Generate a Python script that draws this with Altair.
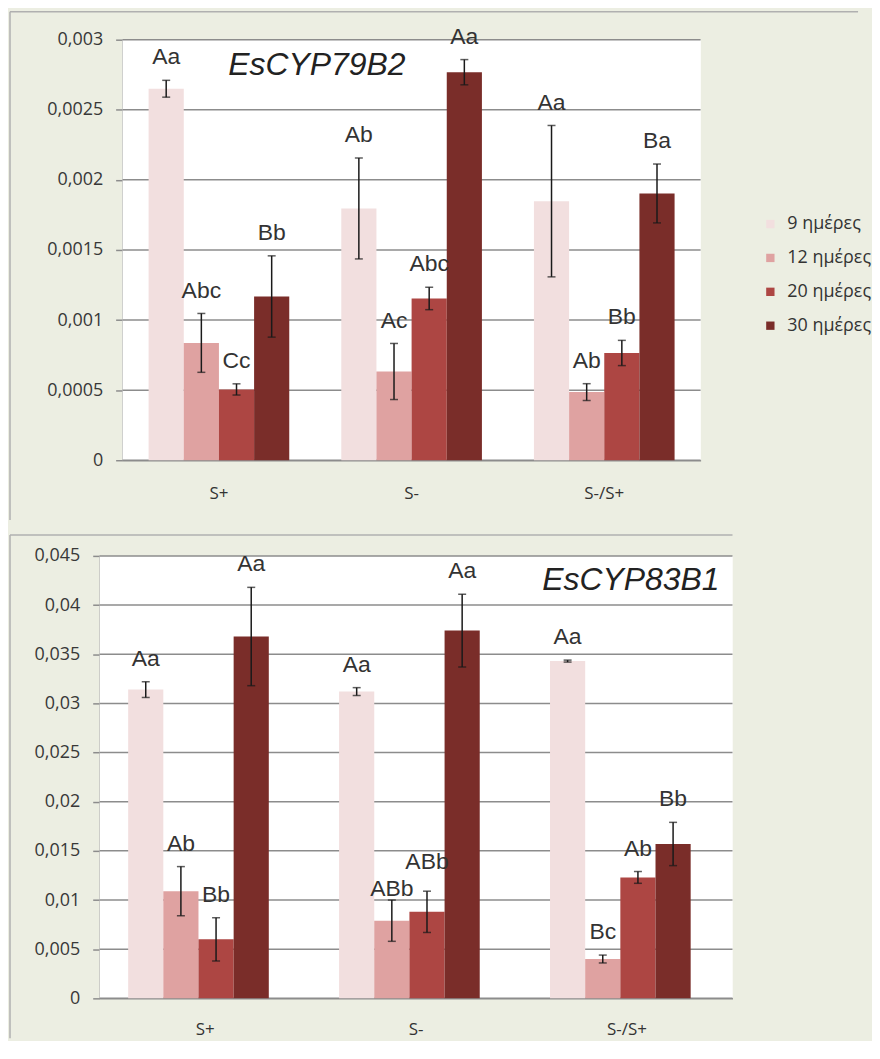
import altair as alt
import pandas as pd

conds = ["S+", "S-", "S-/S+"]
days = ["9 ημέρες", "12 ημέρες", "20 ημέρες", "30 ημέρες"]
colors = ["#f2dfdf", "#dfa2a1", "#ad4643", "#7a2d29"]

# EsCYP79B2 (top panel)
b2_mean_splus = [0.00265, 0.000837, 0.000505, 0.001168]
b2_err_splus = [0.00006, 0.00021, 0.00004, 0.00029]
b2_lab_splus = ["Aa", "Abc", "Cc", "Bb"]
b2_mean_sminus = [0.001796, 0.000633, 0.001154, 0.002768]
b2_err_sminus = [0.00036, 0.0002, 0.00008, 0.00009]
b2_lab_sminus = ["Ab", "Ac", "Abc", "Aa"]
b2_mean_mix = [0.001848, 0.000486, 0.000765, 0.001903]
b2_err_mix = [0.00054, 0.00006, 0.00009, 0.00021]
b2_lab_mix = ["Aa", "Ab", "Bb", "Ba"]
b2_ticks = [0, 0.0005, 0.001, 0.0015, 0.002, 0.0025, 0.003]

# EsCYP83B1 (bottom panel)
b1_mean_splus = [0.0314, 0.0109, 0.0060, 0.0368]
b1_err_splus = [0.0008, 0.0025, 0.0022, 0.0050]
b1_lab_splus = ["Aa", "Ab", "Bb", "Aa"]
b1_mean_sminus = [0.0312, 0.0079, 0.0088, 0.0374]
b1_err_sminus = [0.0004, 0.0021, 0.0021, 0.0037]
b1_lab_sminus = ["Aa", "ABb", "ABb", "Aa"]
b1_mean_mix = [0.0343, 0.0040, 0.0123, 0.0157]
b1_err_mix = [0.0001, 0.0004, 0.0006, 0.0022]
b1_lab_mix = ["Aa", "Bc", "Ab", "Bb"]
b1_ticks = [0, 0.005, 0.01, 0.015, 0.02, 0.025, 0.03, 0.035, 0.04, 0.045]


def make_df(means, errs, labs, ymax):
    rows = []
    for c, m_list, e_list, l_list in zip(conds, means, errs, labs):
        for d, m, e, l in zip(days, m_list, e_list, l_list):
            rows.append({"cond": c, "day": d, "mean": m, "lo": m - e, "hi": m + e,
                         "label": l, "pos": "mid"})
    df = pd.DataFrame(rows)
    # stagger neighbouring long labels that would otherwise collide
    for c in conds:
        idx = list(df.index[df["cond"] == c])
        for a, b in zip(idx[:-1], idx[1:]):
            close = abs(df.at[a, "hi"] - df.at[b, "hi"]) < 0.05 * ymax
            long_ = len(df.at[a, "label"]) >= 3 and len(df.at[b, "label"]) >= 3
            if close and long_:
                low, high = (a, b) if df.at[a, "hi"] <= df.at[b, "hi"] else (b, a)
                df.at[low, "pos"] = "low"
                df.at[high, "pos"] = "high"
    return df


df_top = make_df([b2_mean_splus, b2_mean_sminus, b2_mean_mix],
                 [b2_err_splus, b2_err_sminus, b2_err_mix],
                 [b2_lab_splus, b2_lab_sminus, b2_lab_mix], 0.003)
df_bot = make_df([b1_mean_splus, b1_mean_sminus, b1_mean_mix],
                 [b1_err_splus, b1_err_sminus, b1_err_mix],
                 [b1_lab_splus, b1_lab_sminus, b1_lab_mix], 0.045)

GRID = "#8c8c8c"
FRAME = "#b0b0b0"
INK = "#1a1a1a"


def panel(df, ymax, yvals, gene, gene_x, gene_y, width, height, shift, xlabpad,
          legend, frame_left, frame_top, frame_right, frame_bottom):
    xscale = alt.Scale(paddingInner=0.27, paddingOuter=0.135, range=[-shift, width])
    x = alt.X("cond:N", sort=conds, title=None, scale=xscale,
              axis=alt.Axis(labelAngle=0, ticks=False, tickSize=0, labelPadding=xlabpad,
                            labelFont="Open Sans", labelFontSize=17, labelColor="#333333",
                            domainColor=GRID, domainWidth=1.5, grid=False))
    xo = alt.XOffset("day:N", sort=days)
    yscale = alt.Scale(domain=[0, ymax], nice=False, zero=True)
    yaxis = alt.Axis(values=yvals, labelExpr="replace(format(datum.value, '~g'), '.', ',')",
                     grid=False, offset=shift, tickColor=GRID,
                     tickSize=7, tickWidth=1.5, domainColor=GRID, domainWidth=1.5,
                     labelPadding=13, labelFont="Open Sans", labelFontSize=18,
                     labelColor="#383838")
    color = alt.Color("day:N", sort=days, scale=alt.Scale(domain=days, range=colors),
                      legend=legend)
    one = alt.Data(values=[{"k": 1}])
    ticks_df = pd.DataFrame({"mean": yvals})

    bg = alt.Chart(one).mark_rect(fill="white").encode(
        x=alt.value(-shift), x2=alt.value(width), y=alt.value(0), y2=alt.value(height))
    grid = alt.Chart(ticks_df).mark_rule(color=GRID, strokeWidth=1.5).encode(
        y=alt.Y("mean:Q", scale=yscale, axis=yaxis, title=None),
        x=alt.value(-shift), x2=alt.value(width))

    base = alt.Chart(df)
    bars = base.mark_bar().encode(
        x=x, xOffset=xo, y=alt.Y("mean:Q", scale=yscale, title=None), color=color)
    err = base.mark_rule(color=INK, strokeWidth=1.5).encode(
        x=x, xOffset=xo, y=alt.Y("lo:Q", scale=yscale, title=None), y2="hi:Q")
    cap_hi = base.mark_tick(color=INK, thickness=1.5, size=8).encode(
        x=x, xOffset=xo, y=alt.Y("hi:Q", scale=yscale, title=None))
    cap_lo = base.mark_tick(color=INK, thickness=1.5, size=8).encode(
        x=x, xOffset=xo, y=alt.Y("lo:Q", scale=yscale, title=None))
    text_layers = []
    for pos, dy in (("mid", -16), ("low", -4), ("high", -22)):
        text_layers.append(
            base.transform_filter(alt.datum.pos == pos).mark_text(
                font="Liberation Sans", fontSize=23, color="#333333",
                baseline="alphabetic", dy=dy).encode(
                x=x, xOffset=xo, y=alt.Y("hi:Q", scale=yscale, title=None),
                text="label:N"))
    gene_txt = alt.Chart(one).mark_text(font="Liberation Sans", fontStyle="italic",
                                        fontSize=32, color="#222222",
                                        align="center", baseline="middle").encode(
        x=alt.value(gene_x), y=alt.value(gene_y), text=alt.value(gene))
    fl = alt.Chart(one).mark_rule(color=FRAME, strokeWidth=1.5).encode(
        x=alt.value(frame_left), y=alt.value(frame_top), y2=alt.value(frame_bottom))
    ft = alt.Chart(one).mark_rule(color=FRAME, strokeWidth=1.5).encode(
        x=alt.value(frame_left), x2=alt.value(frame_right), y=alt.value(frame_top))
    return alt.layer(fl, ft, bg, grid, bars, err, cap_hi, cap_lo, *text_layers,
                     gene_txt).properties(width=width, height=height)


top_legend = alt.Legend(title=None, orient="none", legendX=641, legendY=176,
                        direction="vertical", symbolType="square", symbolSize=70,
                        symbolStrokeWidth=0, labelFont="Open Sans", labelFontSize=18,
                        labelColor="#333333", rowPadding=16, labelOffset=8, padding=0)

# top panel: plot area from page x 123; bottom panel: plot area from page x 100
top = panel(df_top, 0.003, b2_ticks, "EsCYP79B2", 195, 25, 580, 422, 0, 25,
            top_legend, -113, -28, 738, 482)
bottom = panel(df_bot, 0.045, b1_ticks, "EsCYP83B1", 510, 24, 612, 444, 23, 23,
               None, -113, -21, 612, 484)

chart = alt.concat(top, bottom, columns=1, spacing=13).properties(
    bounds="full", background="#eceee2",
    padding={"left": 1, "top": 1, "right": 0, "bottom": 0}
).resolve_scale(color="independent", x="independent", y="independent").configure_view(
    stroke=None, fill="white")

chart.save("out.html", embed_options={"renderer": "svg", "actions": False})
